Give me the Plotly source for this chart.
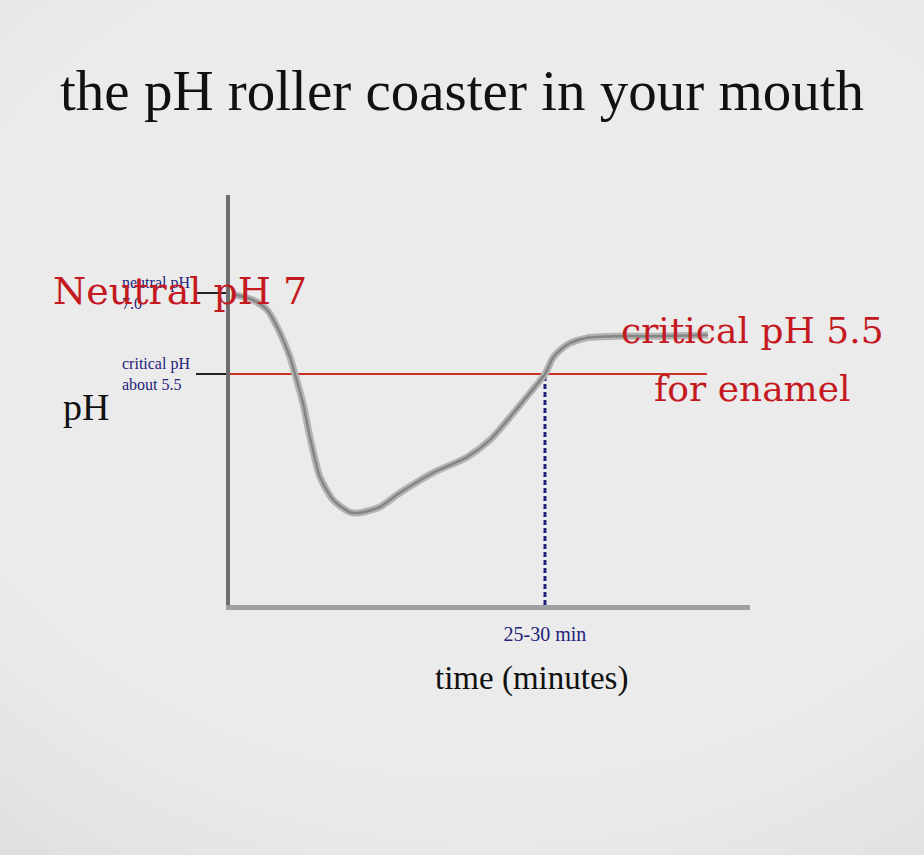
import plotly.graph_objects as go

# ---- data (time in minutes, pH) ----
curve_time = [0.17, 2.01, 3.23, 4.37, 5.24, 5.67, 6.37, 6.98, 7.86, 9.0, 10.48, 11.35,
              13.1, 14.84, 17.72, 20.69, 22.7, 24.44, 26.19, 27.5, 28.2, 28.81, 29.68,
              31.17, 33.79, 37.54, 41.73]
curve_ph = [6.98, 6.87, 6.69, 6.26, 5.81, 5.5, 4.96, 4.33, 3.59, 3.17, 2.94, 2.93,
            3.04, 3.30, 3.67, 3.96, 4.28, 4.70, 5.15, 5.5, 5.80, 5.94, 6.07,
            6.17, 6.20, 6.20, 6.22]

critical_ph = 5.5
critical_line_time = [0.0, 41.64]
recovery_time = 27.5
neutral_ph = 7.0

y_tick_vals = [critical_ph, neutral_ph]
y_tick_text = ["critical pH<br>about 5.5", "neutral pH<br>7.0"]
x_tick_vals = [recovery_time]
x_tick_text = ["25-30 min"]

x_range = [0, 45.4]
y_range = [1.222, 8.815]

RED = "#c41a1f"
NAVY = "#23237a"
serif = "Liberation Serif"

fig = go.Figure()

# critical pH line
fig.add_trace(go.Scatter(x=critical_line_time, y=[critical_ph] * len(critical_line_time),
                         mode="lines", line=dict(color="#c8321f", width=2),
                         hoverinfo="skip", showlegend=False))
# recovery dashed line
fig.add_trace(go.Scatter(x=[recovery_time, recovery_time], y=[y_range[0], critical_ph],
                         mode="lines", line=dict(color=NAVY, width=3, dash="5px,3px"),
                         hoverinfo="skip", showlegend=False))
# pH curve: pencil-like stroke
fig.add_trace(go.Scatter(x=curve_time, y=curve_ph, mode="lines",
                         line=dict(color="#b3b3b3", width=7, shape="spline", smoothing=0.7),
                         hoverinfo="skip", showlegend=False))
fig.add_trace(go.Scatter(x=curve_time, y=curve_ph, mode="lines",
                         line=dict(color="#858585", width=2.5, shape="spline", smoothing=0.7),
                         hoverinfo="skip", showlegend=False))

# soft whitish blotch behind the chart (background decoration)
bg_shapes = []
n_rings = 8
for i in range(n_rings):
    f = i / (n_rings - 1)
    bx = 1.46 - 0.36 * f
    by = 1.06 - 0.36 * f
    bg_shapes.append(dict(type="circle", xref="paper", yref="paper", layer="below",
                          x0=0.5 - bx, x1=0.5 + bx, y0=0.62 - by * 1.5, y1=0.62 + by * 1.5,
                          fillcolor="rgba(248,248,248,0.12)", line=dict(width=0)))

fig.update_layout(
    width=924, height=855,
    margin=dict(l=230, r=174, t=195, b=250),
    paper_bgcolor="#dcdddf",
    plot_bgcolor="rgba(0,0,0,0)",
    showlegend=False,
    xaxis=dict(range=x_range, showgrid=False, zeroline=False, showline=True,
               linecolor="#a0a0a0", linewidth=5, ticks="",
               tickvals=x_tick_vals, ticktext=x_tick_text, ticklabelstandoff=7,
               tickfont=dict(family=serif, size=20, color=NAVY)),
    yaxis=dict(range=y_range, showgrid=False, zeroline=False, showline=True,
               linecolor="#6e6e6e", linewidth=4, ticks="outside", ticklen=30,
               tickwidth=2, tickcolor="#222222",
               tickvals=y_tick_vals, showticklabels=False),
    shapes=bg_shapes,
)

# left-aligned tick captions at the tick values
for val, txt in zip(y_tick_vals, y_tick_text):
    fig.add_annotation(text=txt, xref="paper", yref="y", x=(120 - 230) / 520.0, y=val,
                       showarrow=False, xanchor="left", yanchor="middle", align="left",
                       font=dict(family=serif, size=16, color=NAVY))


def paper_xy(px, py):
    # convert a page pixel position into paper coordinates of the plot area
    return (px - 230) / 520.0, (605 - py) / 410.0


annos = [
    ("the pH roller coaster in your mouth", 462, 90, 57, "#111111", serif),
    ("Neutral pH 7", 180, 291, 38, RED, "DejaVu Serif"),
    ("critical pH 5.5", 752, 330, 36, RED, "DejaVu Serif"),
    ("for enamel", 752, 388, 36, RED, "DejaVu Serif"),
    ("pH", 86, 407, 38, "#111111", serif),
    ("time (minutes)", 531, 678, 33, "#111111", serif),
]
for text, px, py, size, color, fam in annos:
    ax, ay = paper_xy(px, py)
    fig.add_annotation(text=text, xref="paper", yref="paper", x=ax, y=ay,
                       showarrow=False, xanchor="center", yanchor="middle",
                       font=dict(family=fam, size=size, color=color))

fig.write_html("out.html", post_script="document.body.style.margin='0px';",
               config={"displayModeBar": False})
